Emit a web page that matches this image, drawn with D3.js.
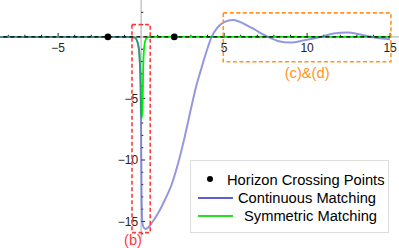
<!DOCTYPE html>
<html><head><meta charset="utf-8">
<script src="https://cdn.jsdelivr.net/npm/d3@7"></script>
<style>body{margin:0;background:#fff}svg{display:block;font-family:"Liberation Sans",Arial,sans-serif}</style>
</head><body><svg id="c" width="399" height="248"></svg>
<script>
// Data
const blueX = [-8.5, -3, -1, -0.6, -0.38, -0.2, -0.1, -0.03, 0, 0.03, 0.08, 0.16, 0.28, 0.45, 0.65, 1.02, 1.43, 1.83, 2.23, 2.63, 3.03, 3.3, 3.6, 3.9, 4.25, 4.6, 5.0, 5.54, 6.57, 7.65, 8.3, 8.97, 9.9, 10.8, 11.6, 12.4, 13.2, 13.9, 14.5, 15];
const blueY = [0, 0, 0, -0.01, -0.06, -0.5, -1.5, -4, -8, -13, -15.1, -15.5, -15.6, -15.45, -15.1, -14.33, -13.25, -12.03, -10.27, -8.1, -5.67, -4.1, -2.7, -1.35, 0, 0.75, 1.2, 1.38, 0.8, 0, -0.35, -0.46, -0.25, 0, 0.28, 0.35, 0.2, 0, -0.13, -0.19];
const greenX = [-8.5, -1, -0.6, -0.38, -0.2, -0.1, -0.03, 0, 0.05, 0.1, 0.12, 0.15, 0.22, 0.3, 0.42, 0.6, 1, 15];
const greenY = [0, 0, -0.01, -0.06, -0.5, -1.5, -4, -6.2, -6.6, -5, -3, -1.5, -0.5, -0.15, -0.02, 0, 0, 0];
const horizonX = [-2, 2];
const horizonY = [0, 0];
const xMajor = [-5, 5, 10, 15];
const yMajor = [-5, -10, -15];
const legendLabels = ["Horizon Crossing Points", "Continuous Matching", "Symmetric Matching"];
const boxB = {x0: -0.55, x1: 0.55, y0: 1, y1: -15.9, label: "(b)"};
const boxCD = {x0: 4.95, x1: 15.05, y0: 1.95, y1: -2.02, label: "(c)&(d)"};

const svg = d3.select("#c");
const x = d3.scaleLinear().domain([-8.5, 15.5]).range([0, 398.4]);
const y = d3.scaleLinear().domain([3.0, -17.15]).range([0, 248]);
const fmt = v => (v < 0 ? "\u2212" + Math.abs(v) : "" + v);

// axes
svg.append("line").attr("x1", 0).attr("x2", 399).attr("y1", y(0)).attr("y2", y(0)).attr("stroke", "#aaa").attr("stroke-width", 1);
svg.append("line").attr("x1", x(0)).attr("x2", x(0)).attr("y1", 0).attr("y2", y(-16.4)).attr("stroke", "#aaa").attr("stroke-width", 1);
const xt = d3.range(-8, 16).filter(v => v !== 0);
svg.selectAll(".xt").data(xt).enter().append("line")
  .attr("x1", d => x(d)).attr("x2", d => x(d))
  .attr("y1", y(0)).attr("y2", d => y(0) - (d % 5 === 0 ? 4 : 2.2))
  .attr("stroke", "#222").attr("stroke-width", 1);
const yt = d3.range(-16, 3).filter(v => v !== 0);
svg.selectAll(".yt").data(yt).enter().append("line")
  .attr("y1", d => y(d)).attr("y2", d => y(d))
  .attr("x1", x(0)).attr("x2", d => x(0) + (d % 5 === 0 ? 4 : 2.2))
  .attr("stroke", "#222").attr("stroke-width", 1);
svg.selectAll(".xl").data(xMajor).enter().append("text")
  .attr("x", d => x(d)).attr("y", y(0) + 15).attr("text-anchor", "middle")
  .attr("font-size", 12).attr("fill", "#222").text(fmt);
svg.selectAll(".yl").data(yMajor).enter().append("text")
  .attr("x", x(0) - 3).attr("y", d => y(d) + 4.3).attr("text-anchor", "end")
  .attr("font-size", 12).attr("fill", "#222").text(fmt);

// curves
const line = d3.line().x(d => x(d[0])).y(d => y(d[1])).curve(d3.curveMonotoneX);
svg.append("path").datum(greenX.map((v, i) => [v, greenY[i]]))
  .attr("d", line).attr("fill", "none").attr("stroke", "#00ee00").attr("stroke-width", 1.8);
svg.append("path").datum(blueX.map((v, i) => [v, blueY[i]]))
  .attr("d", line).attr("fill", "none").attr("stroke", "#5a60d0").attr("stroke-opacity", 0.65).attr("stroke-width", 2);

// dashed horizon line
svg.append("line").attr("x1", x(-8.3)).attr("x2", x(15)).attr("y1", y(0)).attr("y2", y(0))
  .attr("stroke", "#000").attr("stroke-width", 1.2).attr("stroke-dasharray", "4,3");

// horizon crossing points
svg.selectAll(".hp").data(horizonX).enter().append("circle")
  .attr("cx", d => x(d)).attr("cy", (d, i) => y(horizonY[i])).attr("r", 3.3).attr("fill", "#000");

// highlight boxes
function box(b, color, lx, ly) {
  svg.append("rect").attr("x", x(b.x0)).attr("y", y(b.y0))
    .attr("width", x(b.x1) - x(b.x0)).attr("height", y(b.y1) - y(b.y0))
    .attr("fill", "none").attr("stroke", color).attr("stroke-width", 1.6).attr("stroke-dasharray", "4,2.5");
  svg.append("text").attr("x", lx).attr("y", ly).attr("text-anchor", "middle")
    .attr("font-size", 14.7).attr("fill", color).text(b.label);
}
box(boxB, "#ff3b3b", x(boxB.x0) + 1, 245);
box(boxCD, "#ff9420", (x(boxCD.x0) + x(boxCD.x1)) / 2, 78);

// legend
const lg = svg.append("g");
lg.append("rect").attr("x", 190.5).attr("y", 160.5).attr("width", 198).attr("height", 72)
  .attr("fill", "#fff").attr("stroke", "#ddd").attr("stroke-width", 1);
lg.append("circle").attr("cx", 210).attr("cy", 179).attr("r", 3).attr("fill", "#000");
lg.append("line").attr("x1", 198).attr("x2", 233).attr("y1", 198).attr("y2", 198).attr("stroke", "#5a60d0").attr("stroke-width", 2);
lg.append("line").attr("x1", 198).attr("x2", 233).attr("y1", 216).attr("y2", 216).attr("stroke", "#22e022").attr("stroke-width", 2);
const lxs = [227, 238, 244], lys = [184.5, 203, 221];
lg.selectAll(".lt").data(legendLabels).enter().append("text")
  .attr("x", (d, i) => lxs[i]).attr("y", (d, i) => lys[i])
  .attr("font-size", 14.7).attr("fill", "#000").text(d => d);
</script></body></html>
